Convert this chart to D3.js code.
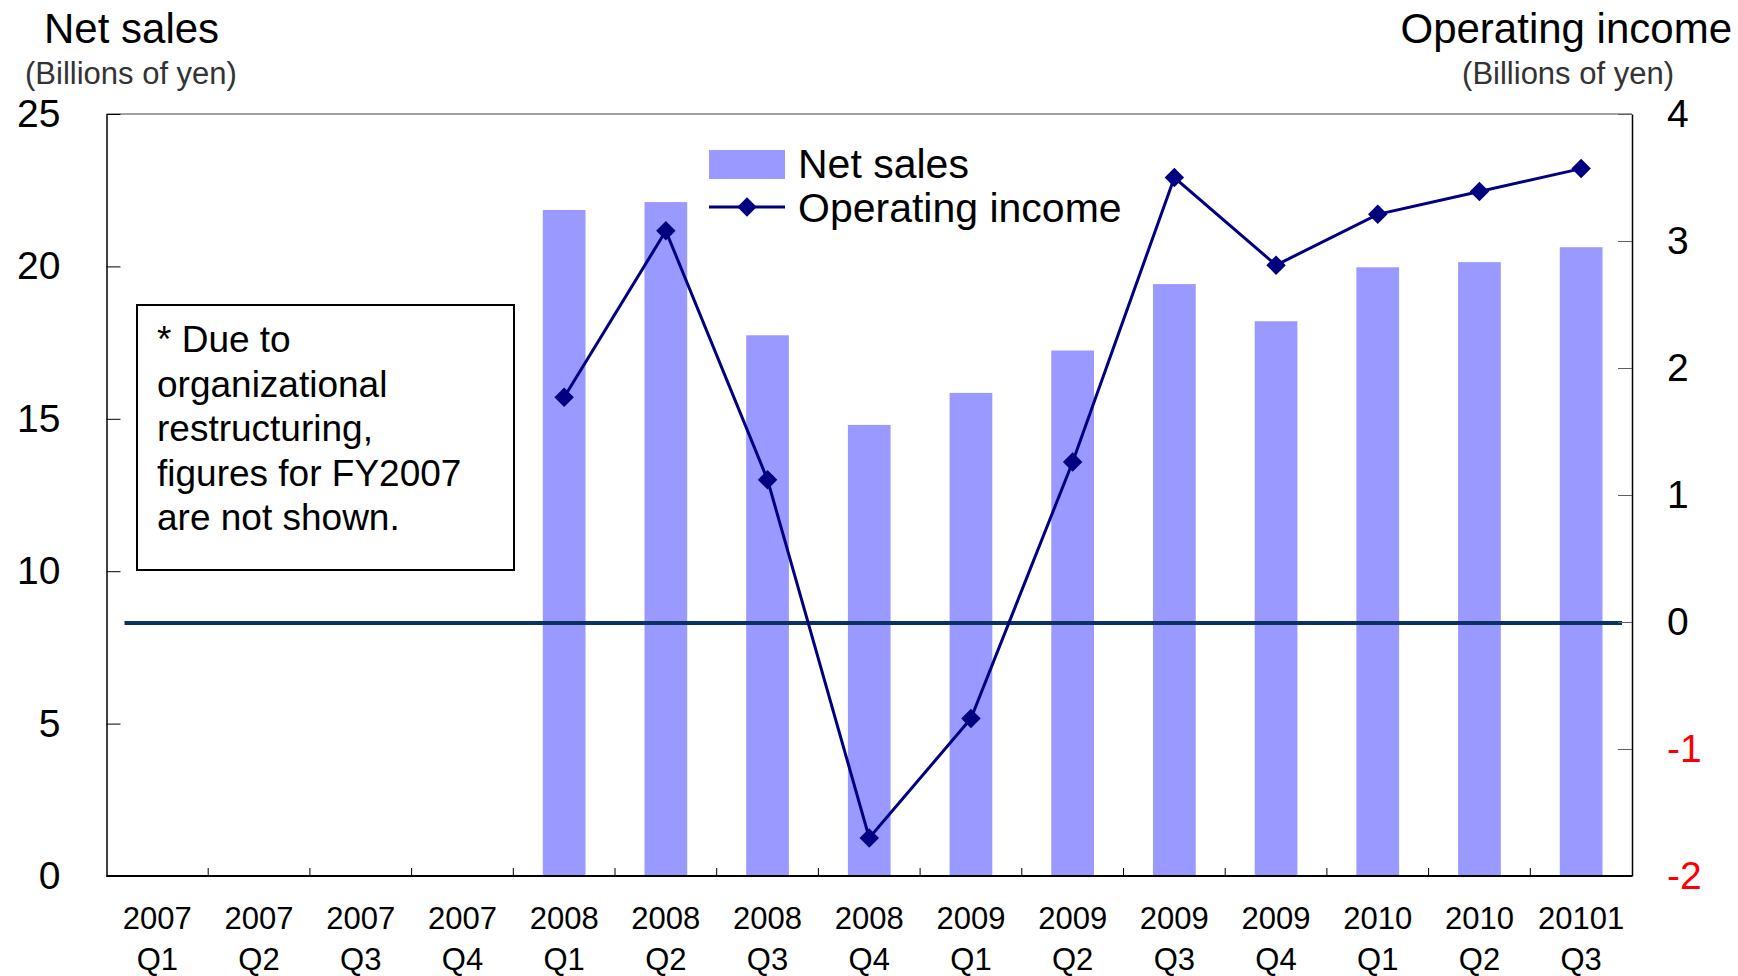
<!DOCTYPE html>
<html>
<head>
<meta charset="utf-8">
<script src="https://cdn.jsdelivr.net/npm/d3@7"></script>
<style>
  html, body { margin: 0; padding: 0; background: #fff; }
  svg { display: block; font-family: "Liberation Sans", Arial, sans-serif; }
</style>
</head>
<body>
<svg id="chart" width="1738" height="976"></svg>
<script>
// ---- data ----
const yearLabels = ["2007","2007","2007","2007","2008","2008","2008","2008","2009","2009","2009","2009","2010","2010","20101"];
const quarterLabels = ["Q1","Q2","Q3","Q4","Q1","Q2","Q3","Q4","Q1","Q2","Q3","Q4","Q1","Q2","Q3"];
const netSales = [null,null,null,null,21.85,22.11,17.74,14.80,15.85,17.24,19.42,18.20,19.97,20.14,20.63];
const operatingIncome = [null,null,null,null,1.77,3.08,1.12,-1.70,-0.76,1.26,3.50,2.81,3.21,3.39,3.57];
const leftTicks = [0,5,10,15,20,25];
const rightTicks = [-2,-1,0,1,2,3,4];
const noteLines = ["* Due to","organizational","restructuring,","figures for FY2007","are not shown."];

// ---- layout ----
const L = 106.5, R = 1632, T = 114, B = 876;
const barColor = "#9999FF", lineColor = "#000080";
const svg = d3.select("#chart");

const ids = yearLabels.map((y, i) => i);
const x = d3.scaleBand().domain(ids).range([L, R]).padding(0);
const bw = x.bandwidth();
const barFrac = 0.42;
const yL = d3.scaleLinear().domain([0, 25]).range([B, T]);
const yR = d3.scaleLinear().domain([-2, 4]).range([B, T]);

// bars
svg.append("g").selectAll("rect")
  .data(ids.filter(i => netSales[i] != null))
  .join("rect")
  .attr("x", i => x(i) + bw * (1 - barFrac) / 2)
  .attr("width", bw * barFrac)
  .attr("y", i => yL(netSales[i]))
  .attr("height", i => yL(0) - yL(netSales[i]))
  .attr("fill", barColor);

// zero line of right axis
svg.append("line")
  .attr("x1", L + 18).attr("x2", R - 10)
  .attr("y1", yR(0) + 1).attr("y2", yR(0) + 1)
  .attr("stroke", "#0a3264").attr("stroke-width", 4);

// top border
svg.append("line").attr("x1", L).attr("x2", R).attr("y1", T).attr("y2", T)
  .attr("stroke", "#808080").attr("stroke-width", 1.5);

// left axis
const axL = svg.append("g").attr("transform", `translate(${L},0)`)
  .call(d3.axisLeft(yL).tickValues(leftTicks).tickFormat(d => String(d))
    .tickSize(-14).tickSizeOuter(0).tickPadding(46));
axL.select(".domain").attr("stroke", "#000").attr("stroke-width", 1.5);
axL.selectAll(".tick line").attr("stroke", "#000");
axL.selectAll(".tick text").attr("font-size", 39).attr("fill", "#000")
  .attr("font-family", "Liberation Sans, Arial, sans-serif");

// right axis
const axR = svg.append("g").attr("transform", `translate(${R},0)`)
  .call(d3.axisRight(yR).tickValues(rightTicks).tickFormat(d => String(d))
    .tickSize(-14).tickSizeOuter(0).tickPadding(35));
axR.select(".domain").attr("stroke", "#000").attr("stroke-width", 1.5);
axR.selectAll(".tick line").attr("stroke", "#606060");
axR.selectAll(".tick text").attr("font-size", 39)
  .attr("fill", d => d < 0 ? "#FF0000" : "#000")
  .attr("font-family", "Liberation Sans, Arial, sans-serif");

// bottom axis line and boundary ticks
svg.append("line").attr("x1", L).attr("x2", R).attr("y1", B).attr("y2", B)
  .attr("stroke", "#000").attr("stroke-width", 2);
svg.append("g").selectAll("line")
  .data(ids.slice(1))
  .join("line")
  .attr("x1", i => x(i)).attr("x2", i => x(i))
  .attr("y1", B).attr("y2", B - 8)
  .attr("stroke", "#000").attr("stroke-width", 1);

// x labels (two lines)
const xl = svg.append("g").attr("font-size", 31).attr("text-anchor", "middle").attr("fill", "#000");
xl.selectAll("text.yr").data(ids).join("text").attr("class", "yr")
  .attr("x", i => x(i) + bw / 2).attr("y", 929).text(i => yearLabels[i]);
xl.selectAll("text.q").data(ids).join("text").attr("class", "q")
  .attr("x", i => x(i) + bw / 2).attr("y", 970).text(i => quarterLabels[i]);

// operating income line
const oiIds = ids.filter(i => operatingIncome[i] != null);
const line = d3.line().x(i => x(i) + bw / 2).y(i => yR(operatingIncome[i]));
svg.append("path").datum(oiIds).attr("d", line)
  .attr("fill", "none").attr("stroke", lineColor).attr("stroke-width", 3);
const diamond = d3.symbol(d3.symbolSquare, 190);
svg.append("g").selectAll("path")
  .data(oiIds).join("path")
  .attr("d", diamond)
  .attr("transform", i => `translate(${x(i) + bw / 2},${yR(operatingIncome[i])}) rotate(45)`)
  .attr("fill", lineColor);

// titles
svg.append("text").attr("x", 44).attr("y", 43).attr("font-size", 42).attr("fill", "#000").text("Net sales");
svg.append("text").attr("x", 25).attr("y", 84).attr("font-size", 31).attr("fill", "#333").text("(Billions of yen)");
svg.append("text").attr("x", 1732).attr("y", 43).attr("font-size", 42).attr("fill", "#000")
  .attr("text-anchor", "end").text("Operating income");
svg.append("text").attr("x", 1674).attr("y", 84).attr("font-size", 31).attr("fill", "#333")
  .attr("text-anchor", "end").text("(Billions of yen)");

// legend
const lg = svg.append("g");
lg.append("rect").attr("x", 709).attr("y", 150).attr("width", 76).attr("height", 29).attr("fill", barColor);
lg.append("text").attr("x", 798).attr("y", 178).attr("font-size", 41).attr("fill", "#000").text("Net sales");
lg.append("line").attr("x1", 709).attr("x2", 785).attr("y1", 207).attr("y2", 207)
  .attr("stroke", lineColor).attr("stroke-width", 3);
lg.append("path").attr("d", diamond).attr("transform", "translate(747,207) rotate(45)").attr("fill", lineColor);
lg.append("text").attr("x", 798).attr("y", 222).attr("font-size", 41).attr("fill", "#000").text("Operating income");

// note box
const nb = svg.append("g");
nb.append("rect").attr("x", 137).attr("y", 305).attr("width", 377).attr("height", 265)
  .attr("fill", "#fff").attr("stroke", "#000").attr("stroke-width", 2);
nb.selectAll("text").data(noteLines).join("text")
  .attr("x", 157).attr("y", (d, i) => 352 + i * 44.6)
  .attr("font-size", 37).attr("fill", "#000").text(d => d);
</script>
</body>
</html>
